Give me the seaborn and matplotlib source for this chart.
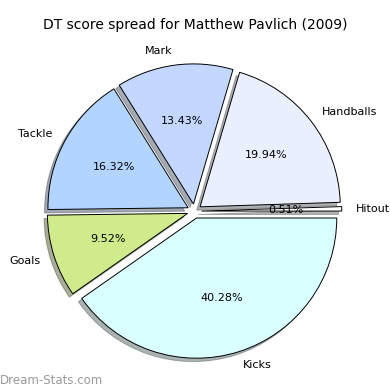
import matplotlib
matplotlib.use("Agg")
import matplotlib.pyplot as plt
import seaborn as sns

# DT score spread, counter-clockwise from 3 o'clock
labels = ["Hitout", "Handballs", "Mark", "Tackle", "Goals", "Kicks"]
shares = [0.51, 19.94, 13.43, 16.32, 9.52, 40.28]
colors = ["#ffffff", "#eaf0ff", "#c4d8ff", "#b3d4ff", "#d0eb8c", "#daffff"]
explode = [0.05, 0.05, 0.05, 0.05, 0.05, 0.05]

sns.set_style("white")
plt.rcParams["font.family"] = ["DejaVu Sans"]
plt.rcParams["text.color"] = "black"

fig = plt.figure(figsize=(3.9, 3.9), dpi=100)
ax = fig.add_axes([0.04, 0.0, 0.917, 0.917])
ax.pie(
    shares,
    labels=labels,
    colors=colors,
    explode=explode,
    radius=0.98,
    autopct="%1.2f%%",
    shadow={"ox": -0.017, "oy": -0.017, "shade": 0.6},
    startangle=0,
    wedgeprops={"edgecolor": "black", "linewidth": 0.7},
    textprops={"fontsize": 8, "color": "black"},
)
ax.set_xlim(-1.25, 1.25)
ax.set_ylim(-1.25, 1.25)
ax.set_aspect("equal")

fig.text(0.5, 1 - 25 / 390, "DT score spread for Matthew Pavlich (2009)",
         ha="center", va="center", fontsize=10, color="black")
fig.text(0.0, 1 - 380 / 390, "Dream-Stats.com", ha="left", va="center",
         fontsize=8.5, color="#999999")

fig.savefig("out.png", dpi=100)
